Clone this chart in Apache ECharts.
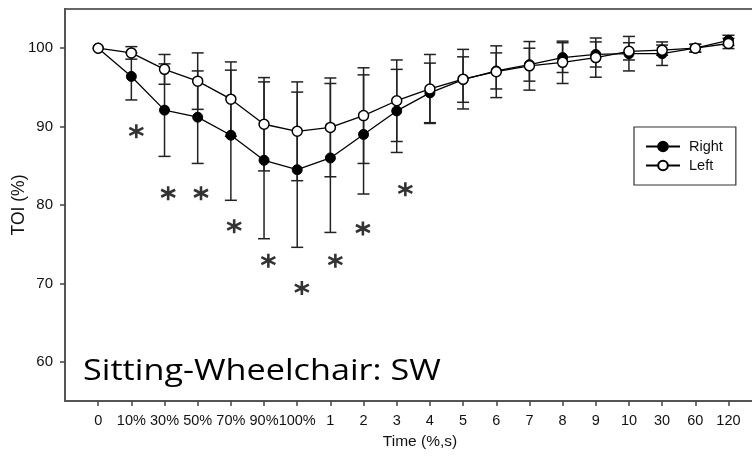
<!DOCTYPE html>
<html>
<head>
<meta charset="utf-8">
<script src="https://cdn.jsdelivr.net/npm/echarts@6/dist/echarts.min.js"></script>
<style>
html,body{margin:0;padding:0;background:#fff;}
#chart{width:752px;height:463px;}
</style>
</head>
<body>
<div id="chart"></div>
<script>
var categories = ['0','10%','30%','50%','70%','90%','100%','1','2','3','4','5','6','7','8','9','10','30','60','120'];
var rightMean = [100, 96.4, 92.1, 91.2, 88.9, 85.7, 84.5, 86.0, 89.0, 92.0, 94.3, 96.0, 97.1, 97.9, 98.8, 99.2, 99.3, 99.3, 100.0, 101.0];
var rightSD   = [0, 3.0, 5.9, 5.9, 8.3, 10.0, 9.9, 9.5, 7.6, 5.3, 3.8, 2.9, 2.3, 2.1, 1.9, 1.6, 2.2, 1.5, 0.5, 0.65];
var leftMean  = [100, 99.4, 97.3, 95.8, 93.5, 90.3, 89.4, 89.9, 91.4, 93.3, 94.8, 96.05, 97.0, 97.75, 98.2, 98.8, 99.6, 99.75, 100.0, 100.6];
var leftSD    = [0, 0.8, 1.9, 3.6, 4.75, 5.95, 6.3, 6.3, 6.1, 5.2, 4.4, 3.8, 3.3, 3.1, 2.7, 2.5, 1.1, 0.65, 0.5, 0.65];
var starX = [1.15, 2.11, 3.1, 4.1, 5.13, 6.14, 7.15, 7.98, 9.26];
var starY = [89.4, 81.5, 81.5, 77.3, 72.9, 69.4, 72.9, 77.0, 82.0];
var yTicks = [60, 70, 80, 90, 100];
var seriesNames = ['Right', 'Left'];
var panelLabel = 'Sitting-Wheelchair: SW';

var idx = categories.map(function (c, i) { return i; });
function pts(means) { return means.map(function (v, i) { return [i, v]; }); }
function errData(means, sds) { return means.map(function (v, i) { return [i, v, sds[i]]; }); }

function errRender(params, api) {
  var x = api.value(0), m = api.value(1), sd = api.value(2);
  if (!sd) return null;
  var top = api.coord([x, m + sd]);
  var bot = api.coord([x, m - sd]);
  var w = 6;
  var st = { stroke: '#222', lineWidth: 1.5 };
  return {
    type: 'group',
    children: [
      { type: 'line', shape: { x1: top[0], y1: top[1], x2: bot[0], y2: bot[1] }, style: st },
      { type: 'line', shape: { x1: top[0] - w, y1: top[1], x2: top[0] + w, y2: top[1] }, style: st },
      { type: 'line', shape: { x1: bot[0] - w, y1: bot[1], x2: bot[0] + w, y2: bot[1] }, style: st }
    ]
  };
}

var chart = echarts.init(document.getElementById('chart'), null, { renderer: 'canvas' });
var font = '"Liberation Sans", Arial, sans-serif';
chart.setOption({
  animation: false,
  backgroundColor: '#fff',
  grid: { left: 65, top: 9, right: -3, bottom: 62, show: true, borderColor: '#666', borderWidth: 2,
          backgroundColor: 'transparent', containLabel: false, outerBoundsMode: 'none' },
  xAxis: {
    type: 'value', min: -1, max: 19.8,
    name: 'Time (%,s)', nameLocation: 'middle', nameGap: 33, nameMoveOverlap: false,
    nameTextStyle: { fontFamily: font, fontSize: 15.5, color: '#111', padding: [0, 0, 0, 20] },
    splitLine: { show: false },
    axisLine: { show: true, onZero: false, lineStyle: { color: '#555', width: 2 } },
    axisTick: { show: true, length: 5, customValues: idx, lineStyle: { color: '#444', width: 1.5 } },
    axisLabel: {
      customValues: idx, margin: 12, fontFamily: font, fontSize: 14.5, color: '#111',
      formatter: function (v) { return categories[Math.round(v)]; }
    }
  },
  yAxis: {
    type: 'value', min: 55, max: 105,
    name: 'TOI (%)', nameLocation: 'middle', nameGap: 37, nameRotate: 90, nameMoveOverlap: false,
    nameTextStyle: { fontFamily: font, fontSize: 17.5, color: '#111' },
    splitLine: { show: false },
    axisLine: { show: true, onZero: false, lineStyle: { color: '#555', width: 2 } },
    axisTick: { show: true, length: 5, customValues: yTicks, lineStyle: { color: '#444', width: 1.5 } },
    axisLabel: { customValues: yTicks, margin: 12, fontFamily: font, fontSize: 15, color: '#111' }
  },
  legend: {
    data: seriesNames, orient: 'vertical', left: 634, top: 127,
    padding: [12, 13, 12, 11], itemGap: 4, itemWidth: 34, itemHeight: 12,
    borderColor: '#333', borderWidth: 1.2, backgroundColor: '#fff',
    textStyle: { fontFamily: font, fontSize: 14.5, color: '#111', padding: [0, 0, 0, 4] }
  },
  graphic: [{
    type: 'text', x: 83, y: 356, scaleX: 1.14, z: 100,
    style: { text: panelLabel, font: '30px "Open Sans", Lato, sans-serif', fill: '#000' }
  }],
  series: [
    { type: 'custom', name: 'RightErr', renderItem: errRender, data: errData(rightMean, rightSD), z: 1, encode: { x: 0, y: 1 } },
    { type: 'custom', name: 'LeftErr', renderItem: errRender, data: errData(leftMean, leftSD), z: 1, encode: { x: 0, y: 1 } },
    {
      type: 'line', name: 'Right', data: pts(rightMean), z: 3,
      symbol: 'circle', symbolSize: 10,
      lineStyle: { color: '#000', width: 1.3 },
      itemStyle: { color: '#000', borderColor: '#000', borderWidth: 1 }
    },
    {
      type: 'line', name: 'Left', data: pts(leftMean), z: 4,
      symbol: 'circle', symbolSize: 10,
      lineStyle: { color: '#000', width: 1.3 },
      itemStyle: { color: '#fff', borderColor: '#000', borderWidth: 1.5 }
    },
    {
      type: 'scatter', name: 'sig', z: 5,
      data: starX.map(function (x, i) { return [x, starY[i]]; }),
      symbol: 'path://M10,0L10,20M1.34,5L18.66,15M1.34,15L18.66,5',
      symbolSize: 14,
      itemStyle: { color: 'rgba(0,0,0,0)', borderColor: '#000', borderWidth: 2.6 }
    }
  ]
});
</script>
</body>
</html>
